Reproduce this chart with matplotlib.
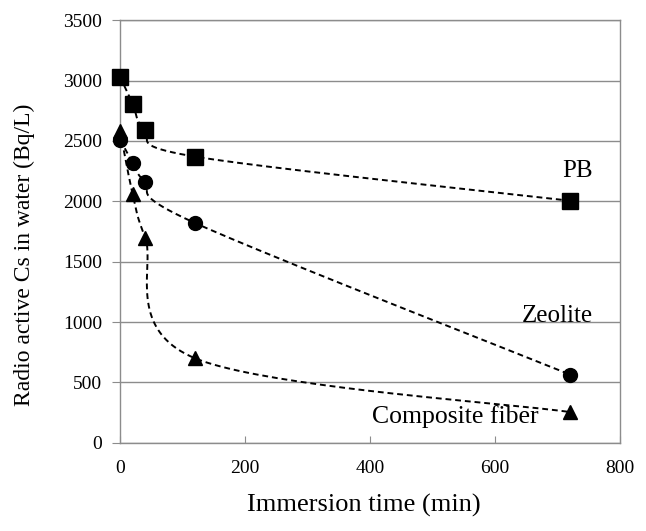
import numpy as np
import matplotlib
matplotlib.use("Agg")
import matplotlib.pyplot as plt

# immersion time (min)
time_min = [0, 20, 40, 120, 720]

# radioactive Cs in water (Bq/L)
cs_pb = [3030, 2810, 2590, 2370, 2005]
cs_zeolite = [2510, 2320, 2160, 1820, 565]
cs_fiber = [2580, 2060, 1700, 700, 255]

series_names = ["PB", "Zeolite", "Composite fiber"]

X_MAX = 800
Y_MAX = 3500


def smooth(ax, xs, ys, n=40):
    # excel-like smoothed line: catmull-rom in display space
    pts = ax.transData.transform(np.column_stack([xs, ys]))
    out = [pts[0]]
    m = len(pts)
    for i in range(m - 1):
        p0 = pts[max(i - 1, 0)]
        p1 = pts[i]
        p2 = pts[i + 1]
        p3 = pts[min(i + 2, m - 1)]
        c1 = p1 + (p2 - p0) / 6.0
        c2 = p2 - (p3 - p1) / 6.0
        t = np.linspace(0, 1, n)[1:, None]
        seg = ((1 - t) ** 3) * p1 + 3 * ((1 - t) ** 2) * t * c1 \
            + 3 * (1 - t) * (t ** 2) * c2 + (t ** 3) * p2
        out.extend(seg)
    out = np.array(out)
    data = ax.transData.inverted().transform(out)
    return data[:, 0], data[:, 1]


def main():
    plt.rcParams["font.family"] = ["Liberation Serif", "DejaVu Serif"]

    fig = plt.figure(figsize=(6.46, 5.31), dpi=100)
    ax = fig.add_axes([0.186, 0.166, 0.774, 0.796])
    ax.set_xlim(0, X_MAX)
    ax.set_ylim(0, Y_MAX)

    grey = "#8c8c8c"
    ax.set_yticks(np.arange(0, Y_MAX + 1, 500))
    ax.set_xticks(np.arange(0, X_MAX + 1, 200))
    ax.yaxis.grid(True, color=grey, linewidth=1.0)
    ax.set_axisbelow(True)
    for s in ax.spines.values():
        s.set_color(grey)
        s.set_linewidth(1.0)
    ax.tick_params(axis="y", direction="out", length=6, color=grey,
                   labelsize=14, pad=7)
    ax.tick_params(axis="x", direction="in", length=5, color=grey,
                   labelsize=14, pad=12)

    markers = ["s", "o", "^"]
    sizes = [11, 10, 10]
    for ys, mk, ms in zip([cs_pb, cs_zeolite, cs_fiber], markers, sizes):
        sx, sy = smooth(ax, time_min, ys)
        ax.plot(sx, sy, color="black", linestyle=(0, (3, 2)), linewidth=1.4,
                zorder=3)
        ax.plot(time_min, ys, linestyle="none", marker=mk, markersize=ms,
                color="black", zorder=4, clip_on=False)

    ax.text(757, 2200, series_names[0], fontsize=18, ha="right", va="baseline")
    ax.text(757, 1000, series_names[1], fontsize=18, ha="right", va="baseline")
    ax.text(669, 165, series_names[2], fontsize=18.5, ha="right", va="baseline")

    ax.set_xlabel("Immersion time (min)", fontsize=19, va="center")
    ax.xaxis.set_label_coords(0.488, -0.147)
    ax.set_ylabel("Radio active Cs in water (Bq/L)", fontsize=17, va="center")
    ax.yaxis.set_label_coords(-0.192, 0.444)

    fig.savefig("out.png", dpi=100)


if __name__ == "__main__":
    main()
